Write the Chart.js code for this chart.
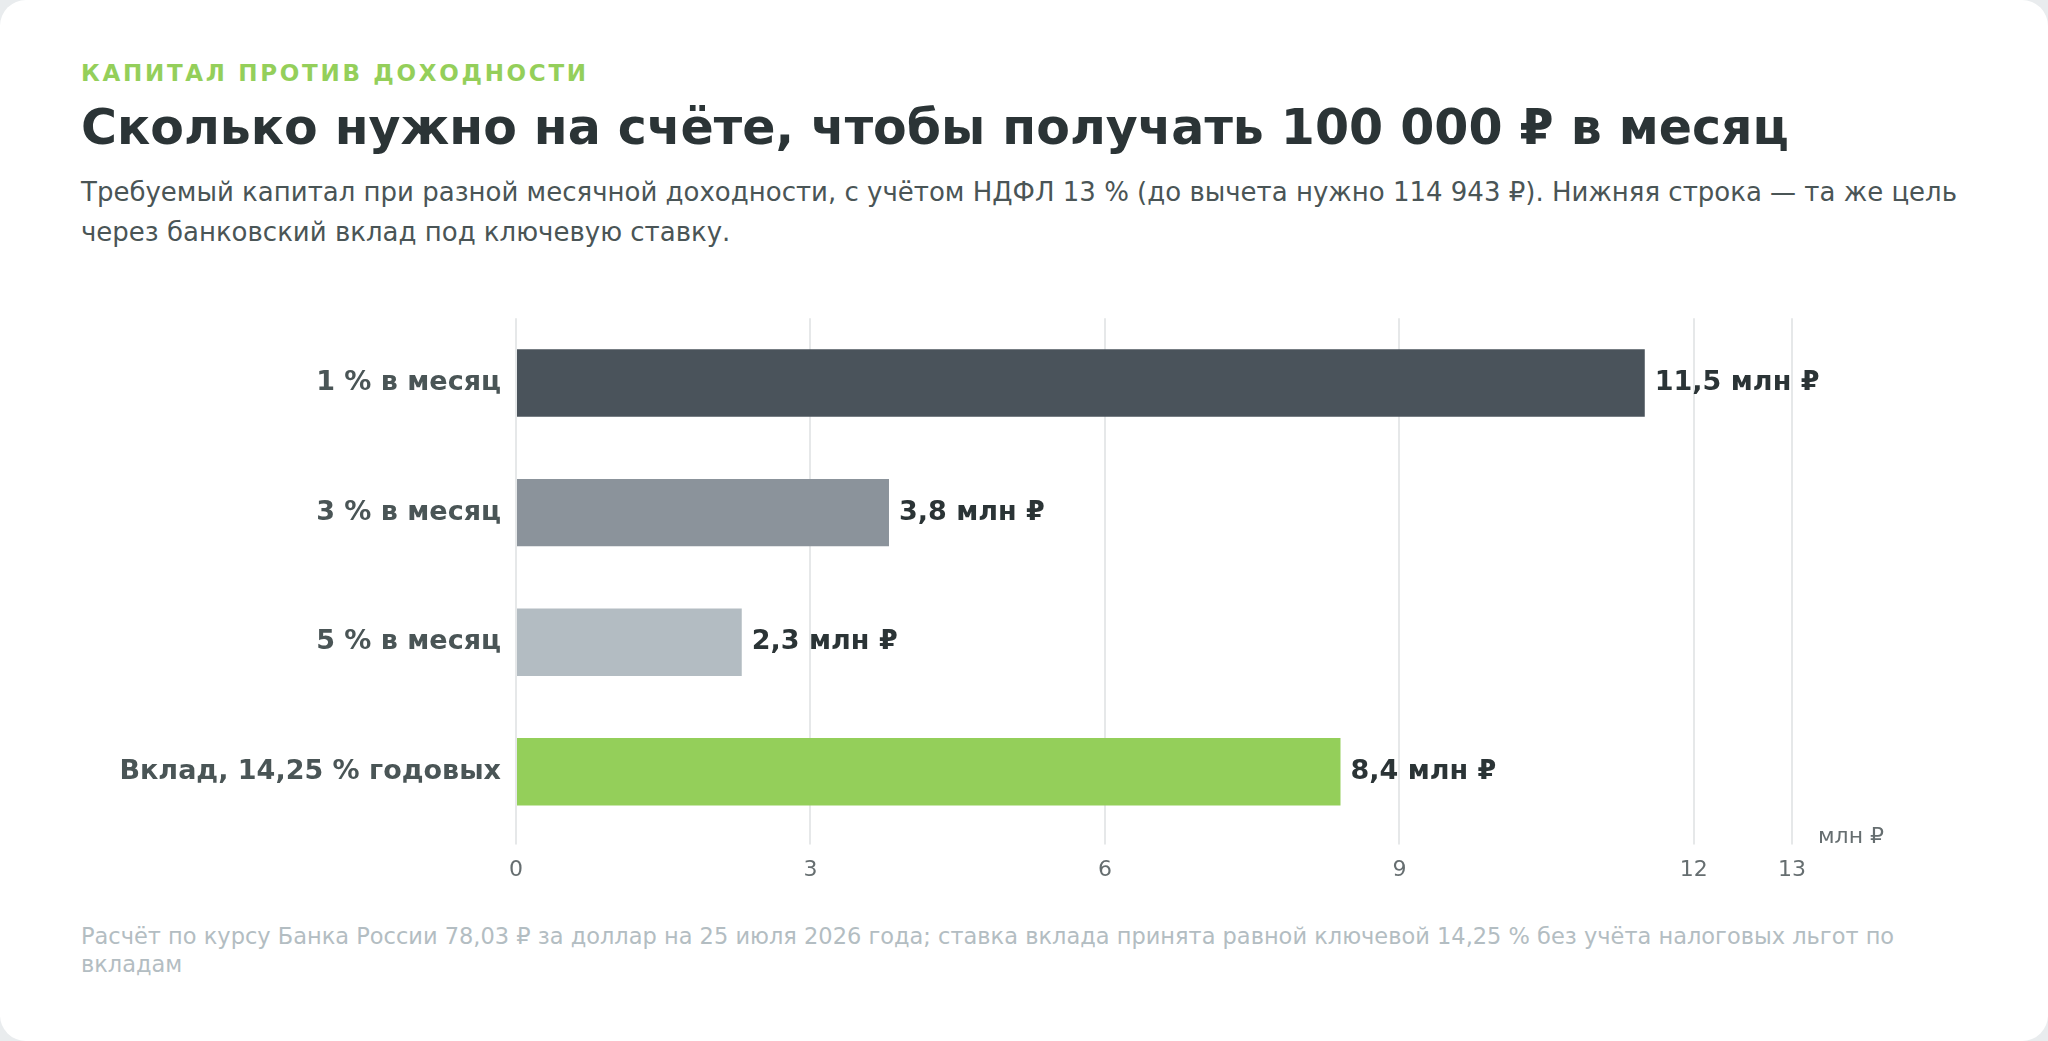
<!DOCTYPE html>
<html lang="ru">
<head>
<meta charset="utf-8">
<script src="https://cdn.jsdelivr.net/npm/chart.js@4/dist/chart.umd.min.js"></script>
<style>
  html, body { margin: 0; padding: 0; width: 2048px; height: 1041px; background: #e9ecee; overflow: hidden; }
  body { font-family: "DejaVu Sans", sans-serif; }
  .card { position: absolute; left: 0; top: 0; width: 2048px; height: 1041px; background: #fff; border-radius: 26px; }
  .kicker { position: absolute; left: 81px; top: 60px; font-size: 23px; font-weight: bold; letter-spacing: 2.7px; color: #94cf5a; }
  .title { position: absolute; left: 81px; top: 99px; font-size: 49px; font-weight: bold; color: #2b3436; }
  .sub { position: absolute; left: 81px; top: 172px; width: 1880px; font-size: 26px; line-height: 40px; color: #4a5556; }
  .note { position: absolute; left: 81px; top: 922px; width: 1900px; font-size: 22.5px; line-height: 28px; color: #b3bdc2; }
  .wrap { position: absolute; left: 0; top: 295px; width: 2048px; height: 600px; }
</style>
</head>
<body>
<div class="card">
  <div class="kicker">КАПИТАЛ ПРОТИВ ДОХОДНОСТИ</div>
  <div class="title">Сколько нужно на счёте, чтобы получать 100 000 ₽ в месяц</div>
  <div class="sub">Требуемый капитал при разной месячной доходности, с учётом НДФЛ 13 % (до вычета нужно 114 943 ₽). Нижняя строка — та же цель через банковский вклад под ключевую ставку.</div>
  <div class="wrap"><canvas id="c"></canvas></div>
  <div class="note">Расчёт по курсу Банка России 78,03 ₽ за доллар на 25 июля 2026 года; ставка вклада принята равной ключевой 14,25 % без учёта налоговых льгот по вкладам</div>
</div>
<script>
const categories = ['1 % в месяц', '3 % в месяц', '5 % в месяц', 'Вклад, 14,25 % годовых'];
const capitalMln = [11.5, 3.8, 2.3, 8.4];
const valueLabels = ['11,5 млн ₽', '3,8 млн ₽', '2,3 млн ₽', '8,4 млн ₽'];
const barColors = ['#4a535b', '#8b939b', '#b3bcc2', '#94cf5a'];

const labelsPlugin = {
  id: 'valueLabels',
  afterDatasetsDraw(chart) {
    const ctx = chart.ctx;
    const meta = chart.getDatasetMeta(0);
    ctx.save();
    ctx.font = 'bold 27px "DejaVu Sans"';
    ctx.fillStyle = '#2b3436';
    ctx.textBaseline = 'middle';
    meta.data.forEach((bar, i) => {
      ctx.fillText(valueLabels[i], bar.x + 10, bar.y);
    });
    const x = chart.scales.x;
    ctx.font = '22px "DejaVu Sans"';
    ctx.fillStyle = '#666e70';
    ctx.fillText('млн ₽', x.right + 26, x.top + 1);
    ctx.restore();
  }
};

new Chart(document.getElementById('c'), {
  type: 'bar',
  data: {
    labels: categories,
    datasets: [{ data: capitalMln, backgroundColor: barColors, barPercentage: 0.52, categoryPercentage: 1 }]
  },
  options: {
    indexAxis: 'y',
    responsive: true,
    maintainAspectRatio: false,
    animation: false,
    layout: { padding: { top: 0, right: 256, left: 0, bottom: 0 } },
    plugins: { legend: { display: false }, tooltip: { enabled: false } },
    scales: {
      x: {
        min: 0, max: 13,
        ticks: { stepSize: 3, color: '#666e70', font: { size: 22, family: 'DejaVu Sans' }, padding: 12 },
        grid: { color: '#e6e8e9', lineWidth: 2, tickLength: 8 },
        border: { display: false }
      },
      y: {
        afterFit(s) { s.width = 516; },
        ticks: { color: '#4a5556', font: { size: 27, weight: 'bold', family: 'DejaVu Sans' }, padding: 7 },
        grid: { display: false },
        border: { display: false }
      }
    }
  },
  plugins: [labelsPlugin]
});
</script>
</body>
</html>
